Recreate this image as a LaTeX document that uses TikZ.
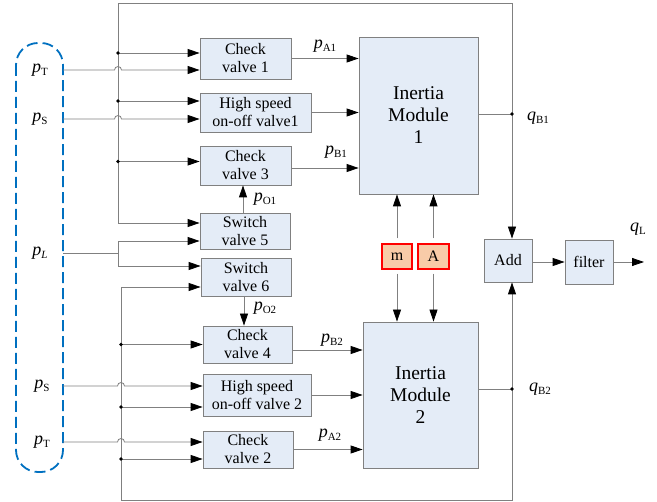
\documentclass[tikz,border=0pt]{standalone}
\usepackage{fontspec}
\setmainfont{Liberation Serif}
\usetikzlibrary{arrows.meta}

\definecolor{boxfill}{RGB}{228,236,247}
\definecolor{boxline}{RGB}{128,128,128}
\definecolor{parfill}{RGB}{248,203,168}
\definecolor{dashblue}{RGB}{0,112,192}
\definecolor{wirecol}{RGB}{128,128,128}

\newcommand{\sig}[2]{\textit{#1}\raisebox{-0.2em}{\fontsize{11}{11}\selectfont #2}}

\tikzset{
  valve/.style={draw=boxline,fill=boxfill,align=center,inner sep=0pt,line width=0.8pt,
    font=\fontsize{16}{18}\selectfont},
  module/.style={valve,font=\fontsize{19.5}{22}\selectfont},
  param/.style={draw=red,fill=parfill,line width=1.2pt,inner sep=0pt,
    font=\fontsize{16}{18}\selectfont},
  wire/.style={draw=wirecol,line width=0.8pt},
  arr/.style={wire,-{Triangle[black,length=12pt,width=8pt]}},
  lbl/.style={font=\fontsize{18}{20}\selectfont,inner sep=0pt},
}

\begin{document}
\begin{tikzpicture}[x=1pt,y=-1pt]
  \useasboundingbox (0,0) rectangle (657,502);

  % valves
  \node[valve,minimum width=91pt,minimum height=41pt] (cv1) at (245.5,58.5) {Check\\valve 1};
  \node[valve,minimum width=111pt,minimum height=39pt] (hs1) at (255.5,112.5) {High speed\\on-off valve1};
  \node[valve,minimum width=91pt,minimum height=39pt] (cv3) at (245.5,165.5) {Check\\valve 3};
  \node[valve,minimum width=90pt,minimum height=36pt] (sw5) at (245,231) {Switch\\valve 5};
  \node[valve,minimum width=90pt,minimum height=38pt] (sw6) at (246,277) {Switch\\valve 6};
  \node[valve,minimum width=89pt,minimum height=37pt] (cv4) at (247.5,344.5) {Check\\valve 4};
  \node[valve,minimum width=108pt,minimum height=42pt] (hs2) at (257,395) {High speed\\on-off valve 2};
  \node[valve,minimum width=90pt,minimum height=37pt] (cv2) at (248,449.5) {Check\\valve 2};

  % modules
  \node[module,minimum width=119pt,minimum height=157pt] (im1) at (418.5,115.5) {Inertia\\Module\\1};
  \node[module,minimum width=115pt,minimum height=146pt] (im2) at (420.5,395) {Inertia\\Module\\2};
  \node[param,minimum width=30pt,minimum height=25pt] (m) at (397,256.5) {m};
  \node[param,minimum width=31pt,minimum height=25pt] (A) at (433.5,256.5) {A};
  \node[valve,minimum width=48pt,minimum height=43pt] (add) at (508,260.5) {Add};
  \node[valve,minimum width=48pt,minimum height=44pt] (filter) at (589,262) {filter};

  % source group
  \draw[dashblue,line width=1.8pt,dash pattern=on 11pt off 5pt,rounded corners=22pt]
    (16,43) rectangle (63,472);
  \node[lbl] (lT1) at (40,70) {\sig{p}{T}};
  \node[lbl] (lS1) at (40,119) {\sig{p}{S}};
  \node[lbl] (lL) at (40,253) {\sig{p}{\textit{L}}};
  \node[lbl] (lS2) at (42,386) {\sig{p}{S}};
  \node[lbl] (lT2) at (42,442) {\sig{p}{T}};
  \coordinate (sT1) at (63,70);
  \coordinate (sS1) at (63,119);
  \coordinate (sL) at (63,253);
  \coordinate (sS2) at (63,386);
  \coordinate (sT2) at (63,442);

  % frame corners
  \coordinate (qb1) at (512,114);
  \coordinate (qb2) at (512,389);
  \coordinate (tr) at (512,3);
  \coordinate (tl) at (118,3);
  \coordinate (br) at (512,500);
  \coordinate (bl) at (121,500);

  % input points
  \coordinate (cv1a) at ([yshift=5.5pt]cv1.west);
  \coordinate (cv1b) at ([yshift=-11.5pt]cv1.west);
  \coordinate (hs1a) at ([yshift=11.5pt]hs1.west);
  \coordinate (hs1b) at ([yshift=-6.5pt]hs1.west);
  \coordinate (cv3a) at ([yshift=4pt]cv3.west);
  \coordinate (sw5a) at ([yshift=8pt]sw5.west);
  \coordinate (sw5b) at ([yshift=-10pt]sw5.west);
  \coordinate (sw6a) at ([yshift=11pt]sw6.west);
  \coordinate (sw6b) at ([yshift=-10pt]sw6.west);
  \coordinate (cv4a) at (cv4.west);
  \coordinate (hs2a) at ([yshift=9pt]hs2.west);
  \coordinate (hs2b) at ([yshift=-12pt]hs2.west);
  \coordinate (cv2a) at ([yshift=7.5pt]cv2.west);
  \coordinate (cv2b) at ([yshift=-9.5pt]cv2.west);

  % feedback loops
  \draw[wire] (im1.east |- qb1) -- (qb1);
  \draw[wire] (im2.east |- qb2) -- (qb2);
  \draw[arr] (qb1) -- (tr) -- (tl) |- (sw5a);
  \draw[arr] (qb2) -- (br) -- (bl) |- (sw6b);
  \draw[arr] (qb1) -- (add.north -| qb1);
  \draw[arr] (qb2) -- (add.south -| qb2);
  \draw[arr] (tl |- cv1a) -- (cv1a);
  \draw[arr] (tl |- hs1a) -- (hs1a);
  \draw[arr] (tl |- cv3a) -- (cv3a);
  \draw[arr] (bl |- cv4a) -- (cv4a);
  \draw[arr] (bl |- hs2b) -- (hs2b);
  \draw[arr] (bl |- cv2b) -- (cv2b);
  \foreach \p in {cv1a,hs1a,cv3a} \fill (tl |- \p) circle[radius=1.8pt];
  \foreach \p in {cv4a,hs2b,cv2b} \fill (bl |- \p) circle[radius=1.8pt];
  \fill (qb1) circle[radius=1.8pt];
  \fill (qb2) circle[radius=1.8pt];

  % supply lines with hops
  \draw[arr] (sT1) -- ([xshift=-3.5pt]tl |- cv1b) arc[start angle=180,end angle=0,radius=3.5pt] -- (cv1b);
  \draw[arr] (sS1) -- ([xshift=-3.5pt]tl |- hs1b) arc[start angle=180,end angle=0,radius=3.5pt] -- (hs1b);
  \draw[arr] (sS2) -- ([xshift=-3.5pt]bl |- hs2a) arc[start angle=180,end angle=0,radius=3.5pt] -- (hs2a);
  \draw[arr] (sT2) -- ([xshift=-3.5pt]bl |- cv2a) arc[start angle=180,end angle=0,radius=3.5pt] -- (cv2a);
  \draw[wire] (sL) -- (tl |- sL);
  \draw[arr] (tl |- sL) |- (sw5b);
  \draw[arr] (tl |- sL) |- (sw6a);

  % valve outputs
  \draw[arr] (cv1.east) -- (cv1.east -| im1.west);
  \draw[arr] (hs1.east) -- (hs1.east -| im1.west);
  \draw[arr] ([yshift=-2.5pt]cv3.east) -- ([yshift=-2.5pt]cv3.east -| im1.west);
  \draw[arr] ([yshift=-5.5pt]cv4.east) -- ([yshift=-5.5pt]cv4.east -| im2.west);
  \draw[arr] (hs2.east) -- (hs2.east -| im2.west);
  \draw[arr] (cv2.east) -- (cv2.east -| im2.west);
  \node[lbl] (pA1) at (325,46) {\sig{p}{A1}};
  \node[lbl] (pB1) at (336,152) {\sig{p}{B1}};
  \node[lbl] (pB2) at (332,340) {\sig{p}{B2}};
  \node[lbl] (pA2) at (330,435) {\sig{p}{A2}};

  % switch valves to check valves
  \draw[arr] ([xshift=-2pt]sw5.north) -- ([xshift=-2pt]sw5.north |- cv3.south);
  \draw[arr] ([xshift=-2pt]sw6.south) -- ([xshift=-2pt]sw6.south |- cv4.north);
  \node[lbl] (pO1) at (265,199) {\sig{p}{O1}};
  \node[lbl] (pO2) at (265,308) {\sig{p}{O2}};

  % parameters
  \draw[arr] ([yshift=5pt]m.north) -- (m.north |- im1.south);
  \draw[arr] ([yshift=5pt]A.north) -- (A.north |- im1.south);
  \draw[arr] ([yshift=-4pt]m.south) -- (m.south |- im2.north);
  \draw[arr] ([yshift=-4pt]A.south) -- (A.south |- im2.north);

  % output
  \coordinate (qout) at (644,262);
  \draw[arr] (add.east |- filter.west) -- (filter.west);
  \draw[arr] (filter.east) -- (qout);
  \node[lbl] (qB1) at (538,118) {\sig{q}{B1}};
  \node[lbl] (qB2) at (540,389) {\sig{q}{B2}};
  \node[lbl] (qL) at (638,229) {\sig{q}{L}};
\end{tikzpicture}
\end{document}
